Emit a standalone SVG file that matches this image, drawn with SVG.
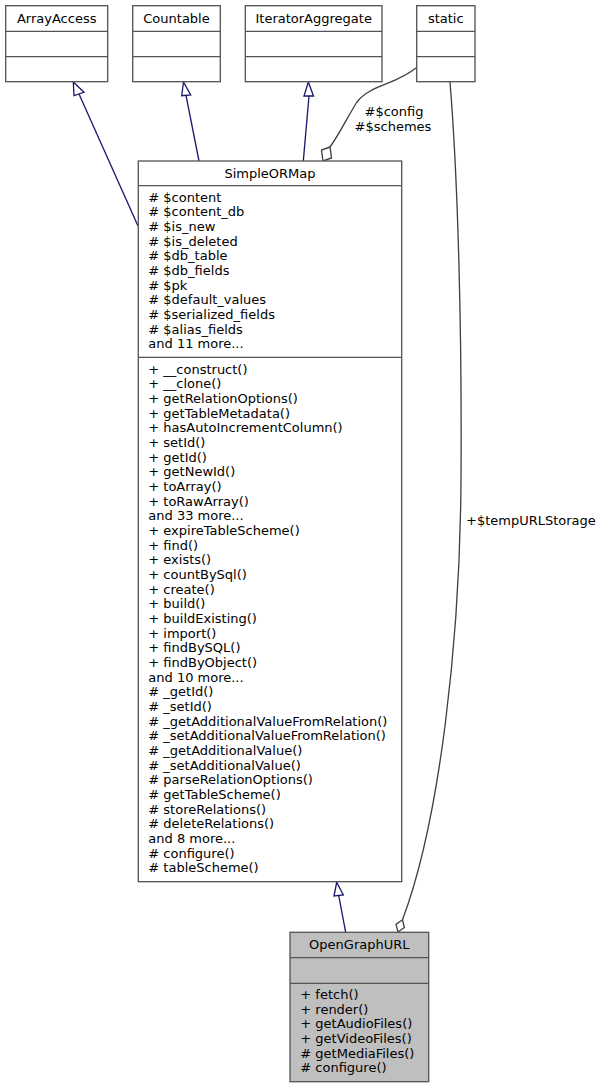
<svg xmlns="http://www.w3.org/2000/svg" width="599" height="1088" viewBox="0 0 599 1088">
<style>
.box{fill:#ffffff;stroke:#555555;stroke-width:1.33}
.hl{fill:#bfbfbf;stroke:#555555;stroke-width:1.33}
.div{stroke:#555555;stroke-width:1.33}
text{font-family:"DejaVu Sans","Liberation Sans",sans-serif;font-size:13px;fill:#000000}
.c{text-anchor:middle}
.inh{fill:none;stroke:#191970;stroke-width:1.33}
.inhh{fill:#ffffff;stroke:#191970;stroke-width:1.33}
.agg{fill:none;stroke:#404040;stroke-width:1.33}
.aggh{fill:#ffffff;stroke:#404040;stroke-width:1.33}
</style>
<rect width="599" height="1088" fill="#ffffff"/>
<g id="connectors">
<path class="inh" d="M79,94 L138,226"/>
<polygon class="inhh" points="73.3,82 84,92.3 74,95.7"/>
<path class="inh" d="M186,95.3 L199,161"/>
<polygon class="inhh" points="183.5,82 190.7,95 181.7,95.7"/>
<path class="inh" d="M309,96 L303.3,161"/>
<polygon class="inhh" points="308.3,82 313.5,96 304,96"/>
<path class="agg" d="M416,68 C395,85 370,85 357,102 C348,116 340,133 330,147"/>
<polygon class="aggh" points="323,161 321.5,150 330,147 331.5,158"/>
<text class="c" x="394" y="116">#$config</text>
<text class="c" x="393" y="131">#$schemes</text>
<path class="agg" d="M450,82 C458,180 462,330 461,480 C460,640 440,820 402.5,919.8"/>
<polygon class="aggh" points="398,932 396,924.4 402.5,919.8 404.4,927.5"/>
<text x="466" y="525">+$tempURLStorage</text>
<path class="inh" d="M338.7,895.5 L345.7,932.3"/>
<polygon class="inhh" points="336.7,882.3 343.3,895 334,896"/>
</g>
<g id="ArrayAccess">
<rect class="box" x="5.7" y="5.7" width="102" height="76"/>
<line class="div" x1="5.7" y1="31.3" x2="107.7" y2="31.3"/>
<line class="div" x1="5.7" y1="56.7" x2="107.7" y2="56.7"/>
<text class="c" x="56.7" y="22.5">ArrayAccess</text>
</g>
<g id="Countable">
<rect class="box" x="132.7" y="5.7" width="87.6" height="76"/>
<line class="div" x1="132.7" y1="31.3" x2="220.3" y2="31.3"/>
<line class="div" x1="132.7" y1="56.7" x2="220.3" y2="56.7"/>
<text class="c" x="176.5" y="22.5">Countable</text>
</g>
<g id="IteratorAggregate">
<rect class="box" x="245.3" y="5.7" width="136.7" height="76"/>
<line class="div" x1="245.3" y1="31.3" x2="382" y2="31.3"/>
<line class="div" x1="245.3" y1="56.7" x2="382" y2="56.7"/>
<text class="c" x="313.7" y="22.5">IteratorAggregate</text>
</g>
<g id="static">
<rect class="box" x="416.7" y="5.7" width="58.3" height="76"/>
<line class="div" x1="416.7" y1="31.3" x2="475" y2="31.3"/>
<line class="div" x1="416.7" y1="56.7" x2="475" y2="56.7"/>
<text class="c" x="445.8" y="22.5">static</text>
</g>
<g id="SimpleORMap">
<rect class="box" x="138.3" y="161" width="263.4" height="720.7"/>
<line class="div" x1="138.3" y1="185.7" x2="401.7" y2="185.7"/>
<line class="div" x1="138.3" y1="357.3" x2="401.7" y2="357.3"/>
<text class="c" x="270" y="178">SimpleORMap</text>
<text x="148.3" y="201.7"># $content</text>
<text x="148.3" y="216.4"># $content_db</text>
<text x="148.3" y="231.0"># $is_new</text>
<text x="148.3" y="245.7"># $is_deleted</text>
<text x="148.3" y="260.4"># $db_table</text>
<text x="148.3" y="275.0"># $db_fields</text>
<text x="148.3" y="289.7"># $pk</text>
<text x="148.3" y="304.4"># $default_values</text>
<text x="148.3" y="319.0"># $serialized_fields</text>
<text x="148.3" y="333.7"># $alias_fields</text>
<text x="148.3" y="348.4">and 11 more...</text>
<text x="148.3" y="373.5">+ __construct()</text>
<text x="148.3" y="388.2">+ __clone()</text>
<text x="148.3" y="402.8">+ getRelationOptions()</text>
<text x="148.3" y="417.5">+ getTableMetadata()</text>
<text x="148.3" y="432.2">+ hasAutoIncrementColumn()</text>
<text x="148.3" y="446.8">+ setId()</text>
<text x="148.3" y="461.5">+ getId()</text>
<text x="148.3" y="476.2">+ getNewId()</text>
<text x="148.3" y="490.9">+ toArray()</text>
<text x="148.3" y="505.5">+ toRawArray()</text>
<text x="148.3" y="520.2">and 33 more...</text>
<text x="148.3" y="534.9">+ expireTableScheme()</text>
<text x="148.3" y="549.5">+ find()</text>
<text x="148.3" y="564.2">+ exists()</text>
<text x="148.3" y="578.9">+ countBySql()</text>
<text x="148.3" y="593.5">+ create()</text>
<text x="148.3" y="608.2">+ build()</text>
<text x="148.3" y="622.9">+ buildExisting()</text>
<text x="148.3" y="637.5">+ import()</text>
<text x="148.3" y="652.2">+ findBySQL()</text>
<text x="148.3" y="666.9">+ findByObject()</text>
<text x="148.3" y="681.5">and 10 more...</text>
<text x="148.3" y="696.2"># _getId()</text>
<text x="148.3" y="710.9"># _setId()</text>
<text x="148.3" y="725.6"># _getAdditionalValueFromRelation()</text>
<text x="148.3" y="740.2"># _setAdditionalValueFromRelation()</text>
<text x="148.3" y="754.9"># _getAdditionalValue()</text>
<text x="148.3" y="769.6"># _setAdditionalValue()</text>
<text x="148.3" y="784.2"># parseRelationOptions()</text>
<text x="148.3" y="798.9"># getTableScheme()</text>
<text x="148.3" y="813.6"># storeRelations()</text>
<text x="148.3" y="828.2"># deleteRelations()</text>
<text x="148.3" y="842.9">and 8 more...</text>
<text x="148.3" y="857.6"># configure()</text>
<text x="148.3" y="872.3"># tableScheme()</text>
</g>
<g id="OpenGraphURL">
<rect class="hl" x="290" y="932.3" width="138.7" height="149.4"/>
<line class="div" x1="290" y1="957.7" x2="428.7" y2="957.7"/>
<line class="div" x1="290" y1="983.3" x2="428.7" y2="983.3"/>
<text class="c" x="359.3" y="949">OpenGraphURL</text>
<text x="300.3" y="999">+ fetch()</text>
<text x="300.3" y="1013.7">+ render()</text>
<text x="300.3" y="1028.3">+ getAudioFiles()</text>
<text x="300.3" y="1043">+ getVideoFiles()</text>
<text x="300.3" y="1057.7"># getMediaFiles()</text>
<text x="300.3" y="1072.3"># configure()</text>
</g>
</svg>
